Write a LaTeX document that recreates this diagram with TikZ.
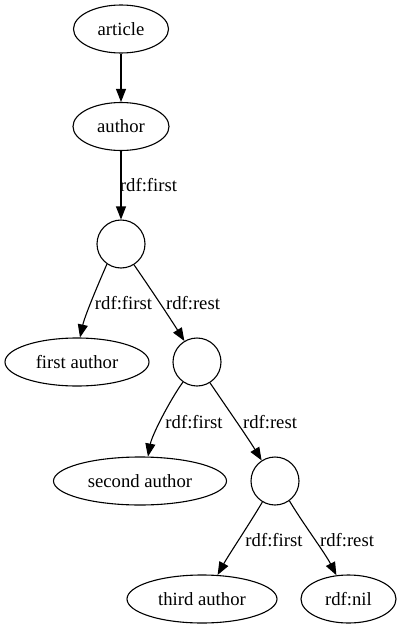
\documentclass[tikz,border=0pt]{standalone}
\usepackage{fontspec}
\setmainfont{Liberation Serif}
\usetikzlibrary{shapes.geometric,arrows.meta}
\begin{document}
\begin{tikzpicture}[x=1pt,y=-1pt,
  every node/.style={font=\fontsize{18.67}{22}\selectfont},
  ell/.style={draw,ellipse,line width=1.1pt,inner sep=0pt,minimum height=48pt},
  circ/.style={draw,circle,line width=1.1pt,inner sep=0pt,minimum size=48pt},
  lbl/.style={inner sep=0pt},
  arr/.style={line width=1.1pt,-{Triangle[length=13pt,width=10pt]}}]
\useasboundingbox (0,0) rectangle (401,629);
\node[ell,minimum width=95pt] (art) at (121,29) {article};
\node[ell,minimum width=96pt] (au) at (121,126.5) {author};
\node[circ] (c1) at (121,244) {};
\node[ell,minimum width=144pt] (fa) at (77,362) {first author};
\node[circ] (c2) at (197,362) {};
\node[ell,minimum width=173pt] (sa) at (140,481) {second author};
\node[circ] (c3) at (275,481) {};
\node[ell,minimum width=150pt] (ta) at (202,599) {third author};
\node[ell,minimum width=95pt] (nil) at (348.5,599) {rdf:nil};
\node[lbl] (l1) at (148.5,185) {rdf:first};
\node[lbl] (l2) at (123.5,303) {rdf:first};
\node[lbl] (l3) at (193,303) {rdf:rest};
\node[lbl] (l4) at (194,422) {rdf:first};
\node[lbl] (l5) at (270,422) {rdf:rest};
\node[lbl] (l6) at (274,540) {rdf:first};
\node[lbl] (l7) at (347,540) {rdf:rest};
\draw[arr] (art.south) -- (au.north);
\draw[arr] (au.south) -- (c1.north);
\draw[arr] (c1.235) .. controls (100,280) and (85,315) .. (fa.83);
\draw[arr] (c1.302) .. controls (148,285) and (170,318) .. (c2.121);
\draw[arr] (c2.235) .. controls (170,400) and (152,435) .. (sa.72);
\draw[arr] (c2.302) .. controls (225,405) and (248,438) .. (c3.123);
\draw[arr] (c3.239) .. controls (250,523) and (228,556) .. (ta.57);
\draw[arr] (c3.306) .. controls (302,522) and (325,553) .. (nil.117);
\end{tikzpicture}
\end{document}
